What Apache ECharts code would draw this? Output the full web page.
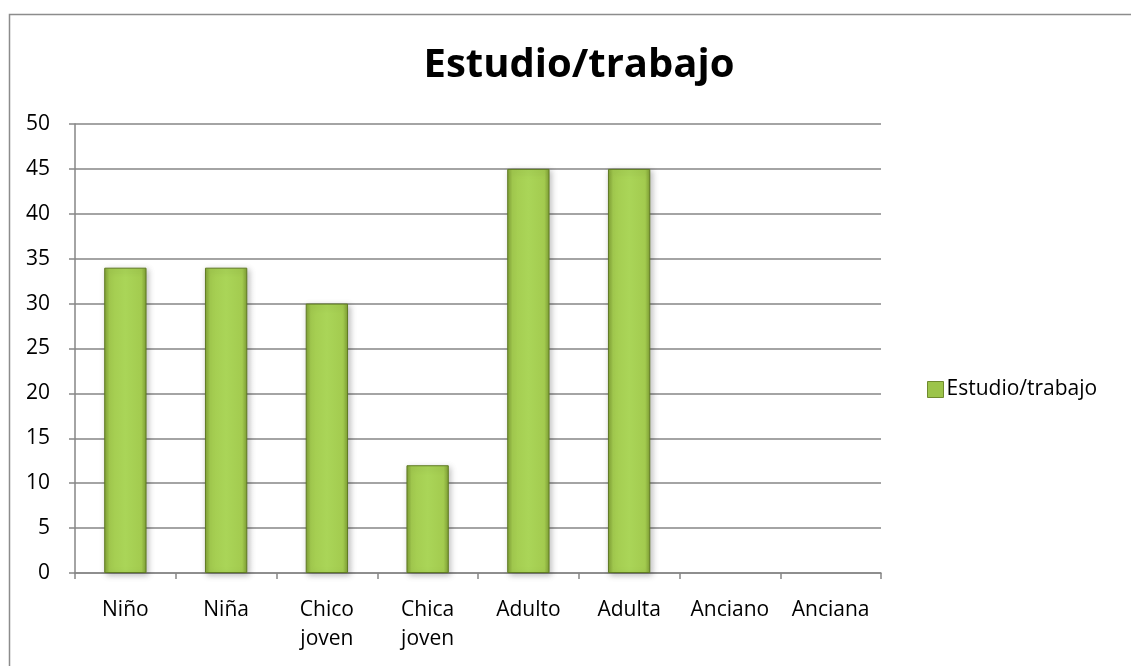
<!DOCTYPE html>
<html>
<head>
<meta charset="utf-8">
<script src="https://cdn.jsdelivr.net/npm/echarts@6/dist/echarts.min.js"></script>
<style>html,body{margin:0;padding:0;background:#fff}#c{width:1131px;height:666px}</style>
</head>
<body>
<div id="c"></div>
<script>
var titleText = 'Estudio/trabajo';
var seriesName = 'Estudio/trabajo';
var categories = ['Niño', 'Niña', 'Chico\njoven', 'Chica\njoven', 'Adulto', 'Adulta', 'Anciano', 'Anciana'];
var values = [34, 34, 30, 12, 45, 45, 0, 0];
var yTicks = { min: 0, max: 50, interval: 5 };

var font = '"Open Sans", "Noto Sans", sans-serif';
var chart = echarts.init(document.getElementById('c'));
var barGrad = new echarts.graphic.LinearGradient(0, 0, 1, 0, [
  { offset: 0, color: '#7e9e34' },
  { offset: 0.12, color: '#a3cb4f' },
  { offset: 0.5, color: '#aad558' },
  { offset: 0.88, color: '#a3cb4f' },
  { offset: 1, color: '#7e9e34' }
]);
var barData = values.map(function (v) {
  return v === 0 ? { value: v, itemStyle: { borderWidth: 0, opacity: 0 } } : v;
});
chart.setOption({
  animation: false,
  backgroundColor: '#fff',
  textStyle: { fontFamily: font },
  graphic: [{
    type: 'rect', left: 7, top: 12,
    shape: { width: 1140, height: 670 },
    style: { fill: 'none', stroke: '#8c8c8c', lineWidth: 1.5 }
  }],
  title: {
    text: titleText, left: 574, top: 41, textAlign: 'center',
    textStyle: { fontFamily: font, fontSize: 40, fontWeight: 'bold', color: '#000' }
  },
  legend: {
    left: 922, top: 374, orient: 'vertical',
    itemWidth: 16, itemHeight: 16, itemGap: 5,
    icon: 'rect',
    textStyle: { fontFamily: font, fontSize: 21, color: '#000', padding: [0, 0, 0, -2] },
    data: [{ name: seriesName, itemStyle: { color: '#9cc44a', borderColor: '#6f8a2e', borderWidth: 1 } }]
  },
  grid: { left: 75, right: 250, top: 124, bottom: 93 },
  xAxis: {
    type: 'category', data: categories,
    axisLine: { lineStyle: { color: '#868686', width: 1.5 } },
    axisTick: { show: true, length: 6, lineStyle: { color: '#868686', width: 1.5 } },
    axisLabel: { color: '#000', fontSize: 21, margin: 23, lineHeight: 29, fontFamily: font, interval: 0 }
  },
  yAxis: {
    type: 'value', min: yTicks.min, max: yTicks.max, interval: yTicks.interval,
    axisLine: { show: true, lineStyle: { color: '#868686', width: 1.5 } },
    axisTick: { show: true, length: 6, lineStyle: { color: '#868686', width: 1.5 } },
    splitLine: { lineStyle: { color: '#868686', width: 1.5 } },
    axisLabel: { color: '#000', fontSize: 21, margin: 25, fontFamily: font }
  },
  series: [{
    name: seriesName, type: 'bar', data: barData, barWidth: '42%',
    itemStyle: {
      color: barGrad, borderColor: '#5f7a22', borderWidth: 1,
      shadowColor: 'rgba(0,0,0,0.25)', shadowBlur: 6, shadowOffsetX: 2, shadowOffsetY: 2
    }
  }]
});
</script>
</body>
</html>
